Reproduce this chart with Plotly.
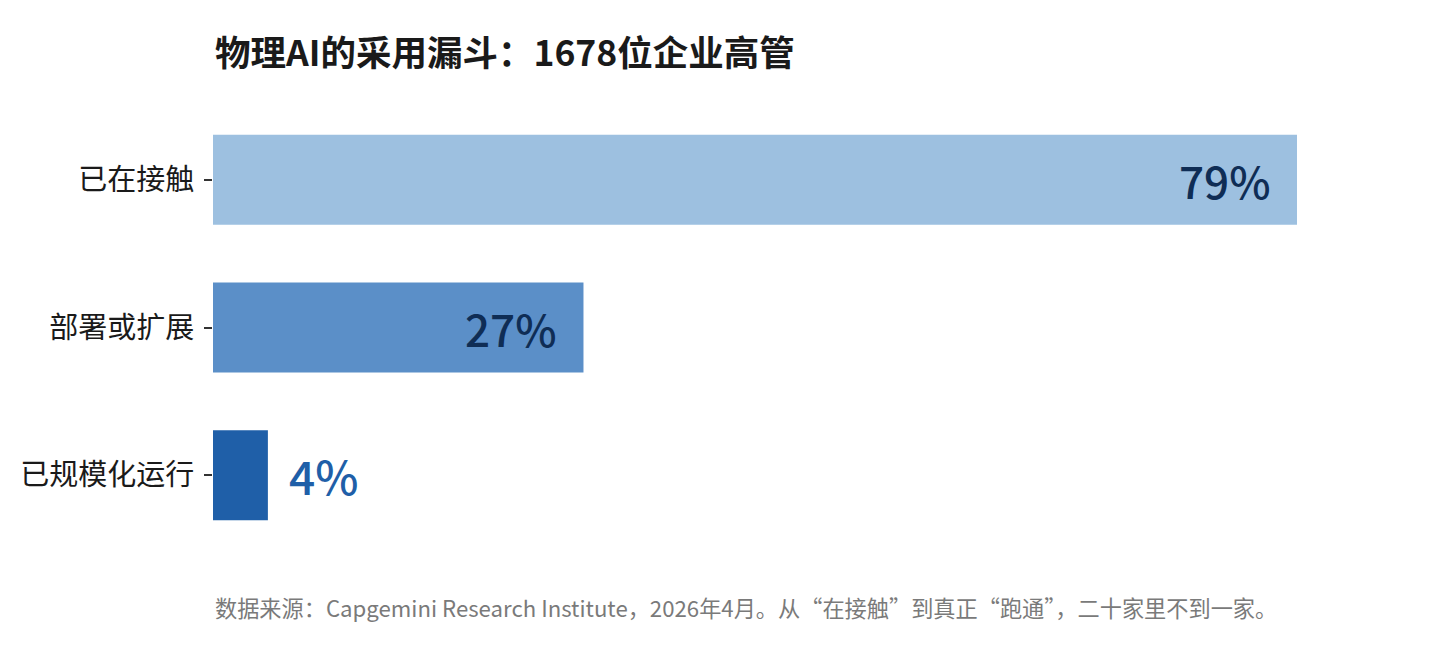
import plotly.graph_objects as go

categories = ["已在接触", "部署或扩展", "已规模化运行"]
values = [79, 27, 4]
labels = ["79%", "27%", "4%"]
bar_colors = ["#9dc0e0", "#5b8fc8", "#1f5fa8"]
label_colors = ["#0f2d55", "#0f2d55", "#1f5fa8"]
label_inside = [True, True, False]

title_text = "物理AI的采用漏斗：1678位企业高管"
source_text = "数据来源：Capgemini Research Institute，2026年4月。从“在接触”到真正“跑通”，二十家里不到一家。"

FONT = "Noto Sans CJK SC"

fig = go.Figure(go.Bar(
    x=values, y=categories, orientation="h",
    marker=dict(color=bar_colors, line=dict(width=0)),
    hoverinfo="skip",
))

for cat, v, lab, col, inside in zip(categories, values, labels, label_colors, label_inside):
    fig.add_annotation(
        x=v, y=cat, text=lab, showarrow=False,
        xanchor="right" if inside else "left",
        xshift=-25 if inside else 19,
        font=dict(family=FONT, size=44 if inside else 46, color=col, weight=500),
    )

fig.add_annotation(
    xref="paper", yref="paper", x=0, y=-0.13, xanchor="left", yanchor="middle",
    text=source_text, showarrow=False,
    font=dict(family=FONT, size=22.2, color="#7a7a7a"),
)

fig.update_layout(
    width=1440, height=671,
    margin=dict(l=213, r=143, t=106, b=122),
    paper_bgcolor="white", plot_bgcolor="white",
    bargap=0.39,
    showlegend=False,
    title=dict(
        text="<b>" + title_text + "</b>",
        x=215 / 1440, xanchor="left", xref="container",
        y=1 - 54 / 671, yanchor="middle", yref="container",
        font=dict(family=FONT, size=35.5, color="#1a1a1a"),
    ),
    xaxis=dict(range=[0, 79], visible=False, fixedrange=True),
    yaxis=dict(
        autorange="reversed", showgrid=False, zeroline=False, showline=False,
        ticks="outside", ticklen=8, tickcolor="#333", tickwidth=1.5,
        ticklabelstandoff=4,
        tickfont=dict(family=FONT, size=29, color="#1a1a1a"),
    ),
    font=dict(family=FONT),
)

fig.write_html("out.html")
